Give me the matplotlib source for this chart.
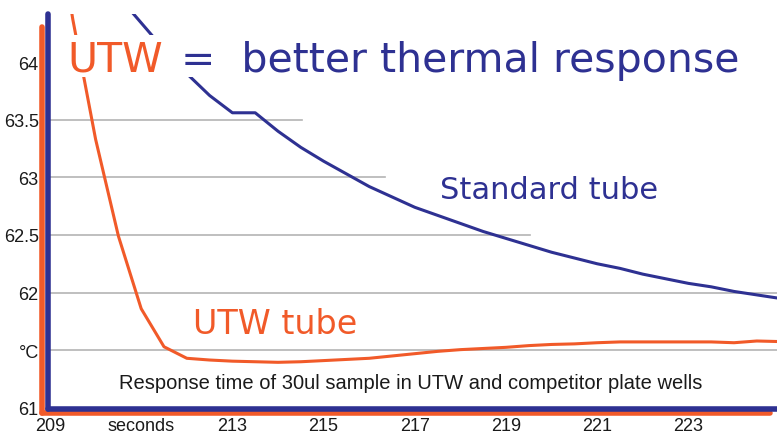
import matplotlib
matplotlib.use("Agg")
import matplotlib.pyplot as plt
from matplotlib.patches import Rectangle
from matplotlib.lines import Line2D

ORANGE = "#F15A29"
BLUE = "#2E3192"
GRID = "#b4b4b4"

# time in seconds, 0.5 s sampling
seconds = [209.0, 209.5, 210.0, 210.5, 211.0, 211.5, 212.0, 212.5, 213.0, 213.5,
           214.0, 214.5, 215.0, 215.5, 216.0, 216.5, 217.0, 217.5, 218.0, 218.5,
           219.0, 219.5, 220.0, 220.5, 221.0, 221.5, 222.0, 222.5, 223.0, 223.5,
           224.0, 224.5, 225.0]

utw_temp = [65.60, 64.37, 63.33, 62.49, 61.86, 61.53, 61.43, 61.415, 61.405, 61.40,
            61.395, 61.40, 61.41, 61.42, 61.43, 61.45, 61.47, 61.49, 61.505, 61.515,
            61.525, 61.54, 61.55, 61.555, 61.565, 61.572, 61.572, 61.572, 61.572, 61.572,
            61.565, 61.58, 61.575]

standard_temp = [65.50, 65.10, 64.80, 64.57, 64.34, 64.11, 63.90, 63.71, 63.56, 63.56,
                 63.40, 63.26, 63.14, 63.03, 62.92, 62.83, 62.74, 62.67, 62.60, 62.53,
                 62.47, 62.41, 62.35, 62.30, 62.25, 62.21, 62.16, 62.12, 62.08, 62.05,
                 62.01, 61.98, 61.95]

y_ticks = [61, 61.5, 62, 62.5, 63, 63.5, 64]
y_labels = ["61", "°C", "62", "62.5", "63", "63.5", "64"]
x_ticks = [209, 211, 213, 215, 217, 219, 221, 223]
x_labels = ["209", "seconds", "213", "215", "217", "219", "221", "223"]

# partial gridlines: (level, right end in seconds)
grid_levels = [(63.5, 214.53), (63.0, 216.35), (62.5, 219.53), (62.0, 226), (61.5, 226)]

W, H = 777, 435
fig = plt.figure(figsize=(W / 100, H / 100), dpi=100)
ax = fig.add_axes([47 / W, 25 / H, 730 / W, 395 / H])
ax.set_xlim(208.934, 224.943)
ax.set_ylim(60.99, 64.417)

for level, xend in grid_levels:
    ax.plot([208.9, xend], [level, level], color=GRID, lw=1.2, zorder=1)

ax.plot(seconds, standard_temp, color=BLUE, lw=2.2, zorder=3)
ax.plot(seconds, utw_temp, color=ORANGE, lw=2.2, zorder=3)

for s in ax.spines.values():
    s.set_visible(False)
ax.set_yticks(y_ticks)
ax.set_yticklabels(y_labels)
ax.set_xticks(x_ticks)
ax.set_xticklabels(x_labels)
ax.tick_params(length=0, labelsize=13, colors="#1a1a1a")
ax.tick_params(axis="y", pad=6)
ax.tick_params(axis="x", pad=6)
for lab in ax.get_xticklabels() + ax.get_yticklabels():
    lab.set_fontfamily("Liberation Sans")

# double axis lines (orange behind, blue in front)
def fline(xs, ys, color, z):
    fig.add_artist(Line2D([x / W for x in xs], [1 - y / H for y in ys],
                          transform=fig.transFigure, color=color, lw=4,
                          solid_capstyle="round", zorder=z))

fline([42, 42], [28, 414], ORANGE, 10)
fline([42, 770], [414, 414], ORANGE, 10)
fline([47.5, 47.5], [15, 410], BLUE, 11)
fline([47.5, 780], [410, 410], BLUE, 11)

# white band behind the headline
ax.add_patch(Rectangle((62 / W, 1 - 78 / H), 695 / W, 42 / H, transform=fig.transFigure,
                       facecolor="white", edgecolor="none", zorder=5, clip_on=False))
head = dict(fontsize=29.5, family="DejaVu Sans", va="baseline", ha="left", zorder=6)
fig.text(67 / W, 1 - 72 / H, "UTW", color=ORANGE, **head)
fig.text(181 / W, 1 - 72 / H, "=  better thermal response", color=BLUE, **head)

fig.text(440 / W, 1 - 199 / H, "Standard tube", color=BLUE, fontsize=22,
         family="DejaVu Sans", va="baseline", ha="left")
fig.text(193 / W, 1 - 334 / H, "UTW tube", color=ORANGE, fontsize=24,
         family="DejaVu Sans", va="baseline", ha="left")
fig.text(411 / W, 1 - 389 / H, "Response time of 30ul sample in UTW and competitor plate wells",
         color="#1a1a1a", fontsize=14.5, family="Liberation Sans", va="baseline", ha="center")

fig.savefig("out.png", dpi=100)
